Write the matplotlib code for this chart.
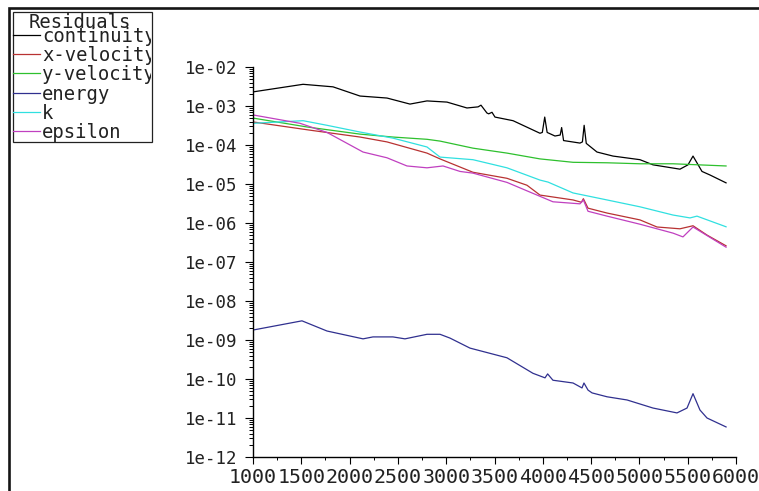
import matplotlib
matplotlib.use('Agg')
import matplotlib.pyplot as plt
from matplotlib.patches import Rectangle
from matplotlib.lines import Line2D
from matplotlib.transforms import Bbox
from matplotlib.ticker import FixedLocator, FuncFormatter, MultipleLocator
import numpy as np

# ---------------- data ----------------
labels = ["continuity", "x-velocity", "y-velocity", "energy", "k", "epsilon"]
colors = ["#000000", "#b83232", "#2ec02e", "#30308f", "#30e0e0", "#c040c0"]

continuity_x = [1000, 1518, 1828, 2108, 2387, 2625, 2801, 3008, 3215, 3330, 3360, 3422, 3440, 3474, 3505,
                3692, 3971, 3995, 4020, 4045, 4126, 4180, 4195, 4215, 4385, 4410, 4428, 4450, 4561,
                4727, 5006, 5141, 5420, 5503, 5555, 5648, 5731, 5897]
continuity_y = [2.3e-3, 3.6e-3, 3.1e-3, 1.8e-3, 1.6e-3, 1.12e-3, 1.35e-3, 1.26e-3, 8.9e-4, 9.5e-4, 1.05e-3,
                6.6e-4, 6.3e-4, 6.9e-4, 5.2e-4, 4.2e-4, 2.0e-4, 2.1e-4, 5.2e-4, 2.1e-4, 1.7e-4, 1.8e-4,
                2.8e-4, 1.3e-4, 1.12e-4, 1.2e-4, 3.2e-4, 1.1e-4, 6.6e-5, 5.2e-5, 4.2e-5, 3.1e-5,
                2.4e-5, 3.1e-5, 5.2e-5, 2.1e-5, 1.7e-5, 1.07e-5]

xvel_x = [1000, 1590, 2108, 2387, 2801, 2936, 3277, 3629, 3836, 3971, 4313, 4400, 4420, 4468, 4665,
          5006, 5182, 5420, 5555, 5700, 5897]
xvel_y = [3.9e-4, 2.4e-4, 1.6e-4, 1.2e-4, 6.2e-5, 4.4e-5, 2.0e-5, 1.4e-5, 9.3e-6, 5.2e-6, 3.9e-6,
          3.4e-6, 4.2e-6, 2.4e-6, 1.8e-6, 1.2e-6, 7.9e-7, 7.1e-7, 8.5e-7, 4.9e-7, 2.6e-7]

yvel_x = [1000, 1559, 2108, 2449, 2801, 2936, 3277, 3629, 3971, 4313, 4665, 5006, 5348, 5897]
yvel_y = [4.9e-4, 2.9e-4, 1.9e-4, 1.6e-4, 1.4e-4, 1.26e-4, 8.3e-5, 6.2e-5, 4.4e-5, 3.6e-5, 3.5e-5,
          3.3e-5, 3.3e-5, 2.9e-5]

energy_x = [1000, 1507, 1766, 2139, 2242, 2449, 2573, 2801, 2936, 3039, 3246, 3629, 3898, 4023, 4050,
            4105, 4313, 4406, 4426, 4468, 4510, 4665, 4872, 5141, 5389, 5493, 5555, 5627, 5700, 5897]
energy_y = [1.8e-9, 3.1e-9, 1.7e-9, 1.07e-9, 1.2e-9, 1.2e-9, 1.07e-9, 1.4e-9, 1.4e-9, 1.12e-9,
            6.2e-10, 3.5e-10, 1.4e-10, 1.07e-10, 1.35e-10, 9.3e-11, 7.9e-11, 5.9e-11, 7.9e-11,
            5.2e-11, 4.4e-11, 3.5e-11, 2.9e-11, 1.8e-11, 1.35e-11, 1.8e-11, 4.2e-11, 1.6e-11,
            1.0e-11, 5.9e-12]

k_x = [1000, 1518, 1766, 2108, 2449, 2801, 2936, 3277, 3629, 3971, 4054, 4313, 4665, 5006, 5348,
       5524, 5596, 5897]
k_y = [3.6e-4, 4.2e-4, 3.2e-4, 2.15e-4, 1.5e-4, 8.9e-5, 4.9e-5, 4.2e-5, 2.6e-5, 1.26e-5, 1.12e-5,
       5.9e-6, 3.9e-6, 2.6e-6, 1.6e-6, 1.35e-6, 1.5e-6, 8.0e-7]

eps_x = [1000, 1487, 1766, 2139, 2387, 2594, 2801, 2967, 3143, 3277, 3629, 3867, 4105, 4385, 4420,
         4468, 4665, 5006, 5348, 5451, 5555, 5897]
eps_y = [5.9e-4, 3.6e-4, 2.1e-4, 6.6e-5, 4.7e-5, 2.9e-5, 2.6e-5, 2.9e-5, 2.1e-5, 1.9e-5, 1.1e-5,
         6.2e-6, 3.5e-6, 3.1e-6, 3.9e-6, 2.0e-6, 1.5e-6, 9.3e-7, 5.5e-7, 4.4e-7, 7.9e-7, 2.4e-7]

series_x = [continuity_x, xvel_x, yvel_x, energy_x, k_x, eps_x]
series_y = [continuity_y, xvel_y, yvel_y, energy_y, k_y, eps_y]

x_min, x_max = 1000, 6000
y_min, y_max = 1e-12, 1e-2

# ---------------- figure ----------------
W, H = 759, 491
fig = plt.figure(figsize=(W / 100, H / 100), dpi=100)
fig.patch.set_facecolor("white")

def fx(px):
    return px / W

def fy(py):
    return 1 - py / H

MONO = ["DejaVu Sans Mono"]

ax = fig.add_axes([fx(253), fy(457), fx(736) - fx(253), fy(67) - fy(457)])
for xs, ys, c in zip(series_x, series_y, colors):
    ax.plot(xs, ys, color=c, lw=0.9, solid_joinstyle="round")

ax.set_yscale("log")
ax.set_xlim(x_min, x_max)
ax.set_ylim(y_min, y_max)
for s in ["top", "right"]:
    ax.spines[s].set_visible(False)
for s in ["left", "bottom"]:
    ax.spines[s].set_linewidth(1.0)
    ax.spines[s].set_color("black")

ax.yaxis.set_major_locator(FixedLocator([10.0 ** e for e in range(-12, -1)]))
ax.yaxis.set_minor_locator(FixedLocator([m * 10.0 ** e for e in range(-12, -2) for m in range(2, 10)]))
ax.yaxis.set_major_formatter(FuncFormatter(lambda v, p: "1e-%02d" % int(round(-np.log10(v)))))
ax.yaxis.set_minor_formatter(FuncFormatter(lambda v, p: ""))
ax.xaxis.set_major_locator(MultipleLocator(500))
ax.xaxis.set_minor_locator(MultipleLocator(250))

ax.tick_params(axis="y", which="major", direction="out", length=6, width=0.8, pad=5,
               labelsize=12.5, labelcolor="#222")
ax.tick_params(axis="y", which="minor", direction="out", length=3, width=0.7)
ax.tick_params(axis="x", which="major", direction="out", length=5, width=0.8, pad=3,
               labelsize=14.4, labelcolor="#222")
ax.tick_params(axis="x", which="minor", direction="out", length=2.2, width=0.7)
for lab in ax.get_xticklabels() + ax.get_yticklabels():
    lab.set_family(MONO)

# outer frame (cropped at right/bottom)
fig.add_artist(Rectangle((fx(9), fy(H + 20)), fx(W + 20) - fx(9), fy(8) - fy(H + 20),
                         transform=fig.transFigure, fill=False, lw=1.9, edgecolor="#151515"))

# legend box
bx0, by0, bx1, by1 = 13, 12, 152, 142
box = Rectangle((fx(bx0), fy(by1)), fx(bx1) - fx(bx0), fy(by0) - fy(by1),
                transform=fig.transFigure, fill=False, lw=0.9, edgecolor="#222")
fig.add_artist(box)
clipbox = Bbox.from_extents(bx0, H - by1, bx1 - 1, H - by0)

t = fig.text(fx(80), fy(27.5), "Residuals", ha="center", va="baseline", fontsize=13.6,
             family=MONO, color="#222")
t.set_clip_box(clipbox)
t.set_clip_on(True)
for i, (lab, c) in enumerate(zip(labels, colors)):
    yy = 35 + 19.2 * i
    fig.add_artist(Line2D([fx(13), fx(40)], [fy(yy), fy(yy)], transform=fig.transFigure,
                          color=c, lw=0.9))
    tt = fig.text(fx(42), fy(yy + 7), lab, ha="left", va="baseline", fontsize=13.6,
                  family=MONO, color="#222")
    tt.set_clip_box(clipbox)
    tt.set_clip_on(True)

fig.savefig("out.png", dpi=100, facecolor="white")
